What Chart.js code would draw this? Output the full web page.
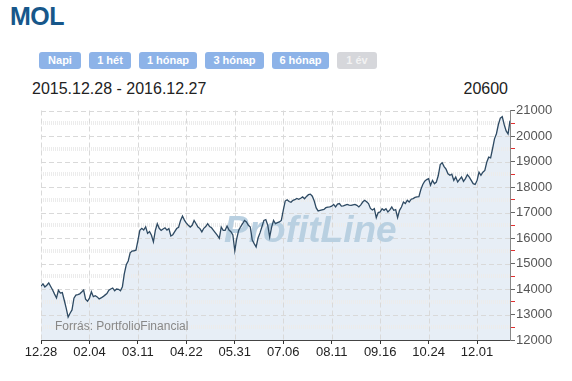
<!DOCTYPE html>
<html>
<head>
<meta charset="utf-8">
<script src="https://cdn.jsdelivr.net/npm/chart.js@4"></script>
<style>
  body { margin: 0; width: 572px; height: 381px; background: #fff; position: relative; overflow: hidden;
         font-family: "Liberation Sans", Arial, sans-serif; }
  #title { position: absolute; left: 10px; top: 2px; font-size: 25px; font-weight: bold; color: #17578a; letter-spacing: -0.5px; }
  .btn { position: absolute; top: 52px; height: 17px; line-height: 17px; border-radius: 3px; background: #8db3e8;
         color: #fff; font-size: 11px; font-weight: bold; text-align: center; }
  .btn.off { background: #d6d7db; color: #f2f2f2; }
  #range { position: absolute; left: 32px; top: 80px; font-size: 16px; color: #222; }
  #last { position: absolute; right: 64px; top: 80px; font-size: 16px; color: #222; }
  #src { position: absolute; left: 55px; top: 319px; font-size: 12px; color: #888; }
  #wrap { position: absolute; left: 0; top: 100px; width: 572px; height: 270px; }
</style>
</head>
<body>
<div id="title">MOL</div>
<div class="btn" style="left:39px;width:42px">Napi</div>
<div class="btn" style="left:89px;width:42px">1 hét</div>
<div class="btn" style="left:139px;width:58px">1 hónap</div>
<div class="btn" style="left:205px;width:59px">3 hónap</div>
<div class="btn" style="left:272px;width:57px">6 hónap</div>
<div class="btn off" style="left:337px;width:40px">1 év</div>
<div id="range">2015.12.28 - 2016.12.27</div>
<div id="last">20600</div>
<div id="wrap"><canvas id="chart" width="572" height="270"></canvas></div>
<div id="src">Forrás: PortfolioFinancial</div>
<script>
// x tick labels, one every 25 trading days
const tickLabels = ['12.28', '02.04', '03.11', '04.22', '05.31', '07.06', '08.11', '09.16', '10.24', '12.01'];

// daily closing prices, 2015.12.28 - 2016.12.27
const prices = [
    14110, 14200, 14080, 14150, 14240, 14100, 13960, 13800, 13650, 13950,
    13840, 13860, 13560, 13250, 12900, 13050, 13180, 13640, 13760, 13780,
    13810, 13880, 13960, 13600, 13520, 13640, 13890, 13700, 13740, 13690,
    13610, 13650, 13700, 13760, 13820, 13950, 14000, 14040, 13930, 14000,
    13990, 13930, 14090, 14600, 14950, 15100, 15420, 15490, 15500, 15520,
    15900, 16300, 16380, 16310, 16440,
    16180, 16250, 16110, 15850, 16300, 16560, 16380, 16300, 16350, 16400,
    16310, 16370, 16080, 16130, 16250, 16370, 16420, 16690, 16860, 16700,
    16580, 16500, 16430, 16500, 16690, 16560, 16430, 16370, 16240, 16380,
    16450, 16560, 16450, 16400, 16300, 16200, 16100, 15990, 16430, 16300,
    16300, 16470, 16310, 16250, 16120, 15500, 15980, 16300, 16440, 16560,
    16690, 16630, 16500, 16430, 15920, 15780, 15650, 16000, 16200, 16440,
    16690, 16720, 16500, 16040, 16430, 16690, 16560, 16600, 16630, 16690,
    17080, 17450,
    17500, 17430, 17400, 17480, 17500, 17550, 17520, 17560, 17610, 17540,
    17630, 17700, 17720, 17640, 17450, 17180, 17060, 17080, 17100, 17120,
    17190, 17210, 17220, 17250, 17320, 17220, 17330, 17350, 17250, 17260,
    17290, 17320, 17290, 17280, 17300, 17320, 17280, 17220, 17300, 17410,
    17480, 17420, 17350,
    17160, 17100, 17150, 16800, 17000, 17020, 17150, 17085, 17150, 17020,
    17100, 17215, 17085, 17110, 16800, 17085, 17215, 17410, 17350, 17480,
    17410, 17520, 17545, 17590, 17610, 17620, 17900, 18100, 18230, 18290,
    18330, 18065, 18260, 18130, 18195, 18450, 18880, 18950,
    18800, 18700, 18520, 18460, 18500, 18260, 18390, 18200, 18300, 18390,
    18220, 18330, 18480, 18390, 18260, 18130, 18100, 18250, 18580, 18460,
    18580, 18650, 18970, 19170, 19140, 19500, 19890, 20090, 20450, 20700,
    20760, 20450, 20200, 20080, 20600
];

const yMin = 12000;
const yMax = 21000;

const points = prices.map((v, i) => ({ x: i, y: v }));

// grid + watermark, drawn after the fill but under the line
const backdrop = {
    id: 'backdrop',
    beforeDatasetDraw(chart, args) {
        if (args.index !== 0) return;
        const { ctx, chartArea: a, scales: { x, y } } = chart;
        ctx.save();
        ctx.lineWidth = 1;
        // minor rows (500s)
        ctx.strokeStyle = '#ececec';
        ctx.lineWidth = 4;
        ctx.setLineDash([1, 1]);
        for (let v = yMin + 500; v < yMax; v += 1000) {
            const py = Math.round(y.getPixelForValue(v));
            ctx.beginPath();
            ctx.moveTo(a.left, py);
            ctx.lineTo(a.right, py);
            ctx.stroke();
        }
        // major rows (1000s)
        ctx.lineWidth = 1;
        ctx.strokeStyle = '#d9d9d9';
        ctx.setLineDash([5, 3]);
        for (let v = yMin + 1000; v <= yMax; v += 1000) {
            const py = Math.round(y.getPixelForValue(v)) + 0.5;
            ctx.beginPath();
            ctx.moveTo(a.left, py);
            ctx.lineTo(a.right, py);
            ctx.stroke();
        }
        // columns at date ticks
        x.ticks.forEach(t => {
            const px = Math.round(x.getPixelForValue(t.value)) + 0.5;
            ctx.beginPath();
            ctx.moveTo(px, a.top);
            ctx.lineTo(px, a.bottom);
            ctx.stroke();
        });
        ctx.setLineDash([]);
        ctx.fillStyle = '#b9d0e1';
        ctx.font = 'italic bold 37px "Liberation Sans", Arial, sans-serif';
        ctx.textBaseline = 'alphabetic';
        ctx.fillText('ProfitLine', 224, 242 - 100);
        ctx.restore();
    }
};

const config = {
    type: 'line',
    data: {
        datasets: [{
            data: points,
            borderColor: '#2e4a63',
            borderWidth: 1.3,
            pointRadius: 0,
            fill: false,
            tension: 0
        }, {
            data: points,
            borderWidth: 0,
            pointRadius: 0,
            backgroundColor: '#e7eef6',
            fill: 'start',
            tension: 0
        }]
    },
    options: {
        responsive: false,
        animation: false,
        events: [],
        layout: { padding: { left: 41, right: 0, top: 10.5, bottom: 0 } },
        plugins: {
            legend: { display: false },
            tooltip: { enabled: false }
        },
        scales: {
            x: {
                type: 'linear',
                min: 0,
                max: prices.length - 1,
                afterFit: s => { s.height = 30; },
                border: { display: true, color: '#444', dash: [1, 1] },
                grid: { drawOnChartArea: false, drawTicks: true, tickLength: 4, tickColor: '#333' },
                ticks: {
                    stepSize: 25,
                    includeBounds: false,
                    autoSkip: false,
                    maxRotation: 0,
                    padding: 1,
                    color: '#222',
                    font: { family: '"Liberation Sans", Arial, sans-serif', size: 13 },
                    callback: v => tickLabels[v / 25] ?? ''
                }
            },
            y: {
                position: 'right',
                min: yMin,
                max: yMax,
                afterFit: s => { s.width = 62; },
                border: { display: true, color: '#888' },
                grid: {
                    drawOnChartArea: false,
                    drawTicks: true,
                    tickLength: 5,
                    tickColor: c => (c.tick && c.tick.value % 1000) ? '#e03030' : '#666'
                },
                ticks: {
                    stepSize: 500,
                    autoSkip: false,
                    padding: 1,
                    color: '#555',
                    font: { family: '"Liberation Sans", Arial, sans-serif', size: 13 },
                    callback: v => (v % 1000 ? '' : String(v))
                }
            }
        }
    },
    plugins: [backdrop]
};

new Chart(document.getElementById('chart'), config);
</script>
</body>
</html>
